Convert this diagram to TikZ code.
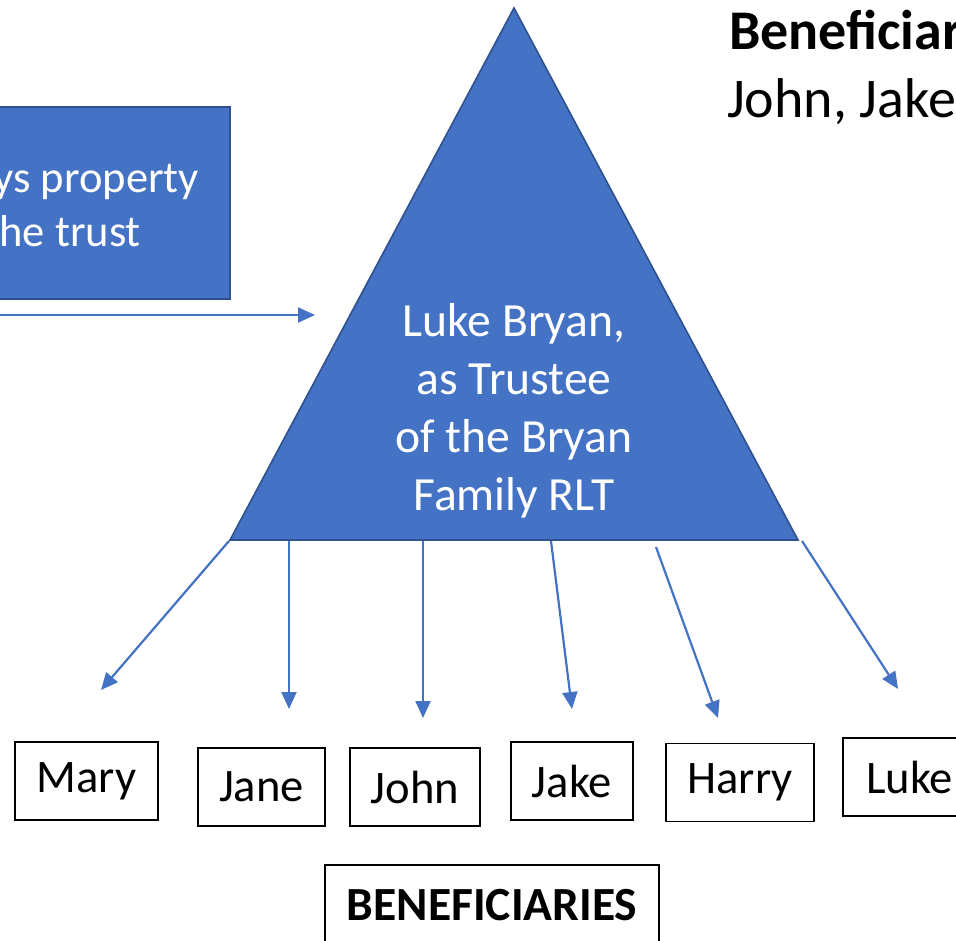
\documentclass[tikz,border=0pt]{standalone}
\usepackage{fontspec}
\setmainfont{Carlito}
\usetikzlibrary{arrows.meta}
\definecolor{trustblue}{HTML}{4472C4}
\definecolor{trustedge}{HTML}{2F528F}
\tikzset{
	person/.style={rectangle, text centered, draw=black, line width=0.6pt, minimum height=39pt, font=\fontsize{23.3}{28}\selectfont},
	blue arrow/.style={draw=trustblue, line width=1.1pt, -{Triangle[length=8.5pt,width=7.5pt]}},
}

\begin{document}
\begin{tikzpicture}[x=0.5pt, y=-0.5pt]
	\useasboundingbox (0,0) rectangle (956,940);
	\clip (0,0) rectangle (956,940);
	% the trust
	\coordinate (apex) at (514,8);
	\coordinate (baseL) at (230,540);
	\coordinate (baseR) at (798,540);
	\filldraw[fill=trustblue, draw=trustedge, line width=0.8pt] (apex) -- (baseR) -- (baseL) -- cycle;
	\node[text=white, align=center, font=\fontsize{23.8}{29}\selectfont] (trustee) at (514,411) {Luke Bryan,\\as Trustee\\of the Bryan\\Family RLT};
	% grantor box
	\filldraw[fill=trustblue, draw=trustedge, line width=0.8pt] (-10,107) rectangle (230,299);
	\node[text=white, anchor=base east, font=\fontsize{22.3}{27}\selectfont] (convey1) at (206,193) {ys property};
	\node[text=white, anchor=base east, font=\fontsize{22.3}{27}\selectfont] (convey2) at (148,247) {he trust};
	\coordinate (transferA) at (0,315);
	\coordinate (transferB) at (315,315);
	\draw[blue arrow] (transferA) -- (transferB);
	% heading top right
	\node[anchor=base west, font=\fontsize{28}{34}\bfseries] (head) at (722,50) {Beneficiar};
	\node[anchor=base west, font=\fontsize{28}{34}\selectfont] (headlist) at (720,118) {John, Jake};
	% beneficiaries
	\node[person, minimum width=71.5pt] (mary) at (86.5,781) {Mary};
	\node[person, minimum width=63.5pt] (jane) at (261.5,787) {Jane};
	\node[person, minimum width=65pt] (john) at (415,787) {John};
	\node[person, minimum width=61pt] (jake) at (572,781) {Jake};
	\node[person, minimum width=74pt] (harry) at (740,782.5) {Harry};
	\node[person, minimum width=66.5pt] (luke) at (909.5,777) {Luke};
	\node[person, minimum width=167pt, minimum height=40pt, font=\fontsize{23.8}{28}\bfseries] (benef) at (492,905) {BENEFICIARIES};
	% distributions
	\coordinate (s1) at (229,541);  \coordinate (e1) at (101,690);
	\coordinate (s2) at (289,541);  \coordinate (e2) at (289,709);
	\coordinate (s3) at (423,541);  \coordinate (e3) at (423,718);
	\coordinate (s4) at (551,541);  \coordinate (e4) at (572,709);
	\coordinate (s5) at (656,547);  \coordinate (e5) at (718,718);
	\coordinate (s6) at (802,541);  \coordinate (e6) at (898,689);
	\foreach \i in {1,...,6}
		\draw[blue arrow] (s\i) -- (e\i);
\end{tikzpicture}
\end{document}
